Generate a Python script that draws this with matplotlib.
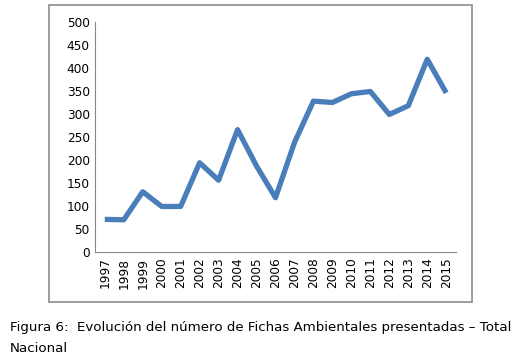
import matplotlib.pyplot as plt
from matplotlib.patches import Rectangle

years = ['1997', '1998', '1999', '2000', '2001', '2002', '2003', '2004', '2005', '2006',
         '2007', '2008', '2009', '2010', '2011', '2012', '2013', '2014', '2015']
fichas = [71, 70, 131, 99, 99, 194, 156, 266, 187, 118,
          238, 328, 325, 344, 349, 299, 318, 419, 346]
yticks = [0, 50, 100, 150, 200, 250, 300, 350, 400, 450, 500]

W, H = 520, 362
fig = plt.figure(figsize=(W / 100, H / 100), dpi=100)

# marco exterior del grafico
fig.patches.append(Rectangle((49 / W, 1 - 302 / H), (472 - 49) / W, (302 - 5) / H,
                             transform=fig.transFigure, fill=False,
                             edgecolor='#8c8c8c', linewidth=1.2))

ax = fig.add_axes([95.3 / W, 1 - 252 / H, (455.7 - 95.3) / W, (252 - 22) / H])
ax.plot(range(len(years)), fichas, color='#4a7ebb', linewidth=3.8,
        solid_joinstyle='round', solid_capstyle='butt')

ax.set_xlim(-0.5, len(years) - 0.5)
ax.set_ylim(0, 500)
ax.set_yticks(yticks)
ax.set_xticks(range(len(years)))
ax.set_xticklabels(years, rotation=90)
ax.tick_params(length=0, labelsize=8.7, pad=4)

ax.spines['right'].set_color('none')
ax.spines['top'].set_color('none')
ax.spines['left'].set_color('#868686')
ax.spines['bottom'].set_color('#868686')

fig.text(10 / W, 1 - 328 / H,
         'Figura 6:  Evolución del número de Fichas Ambientales presentadas – Total',
         fontsize=9.65, va='center', ha='left')
fig.text(10 / W, 1 - 348 / H, 'Nacional', fontsize=9.65, va='center', ha='left')

fig.savefig('out.png', dpi=100)
